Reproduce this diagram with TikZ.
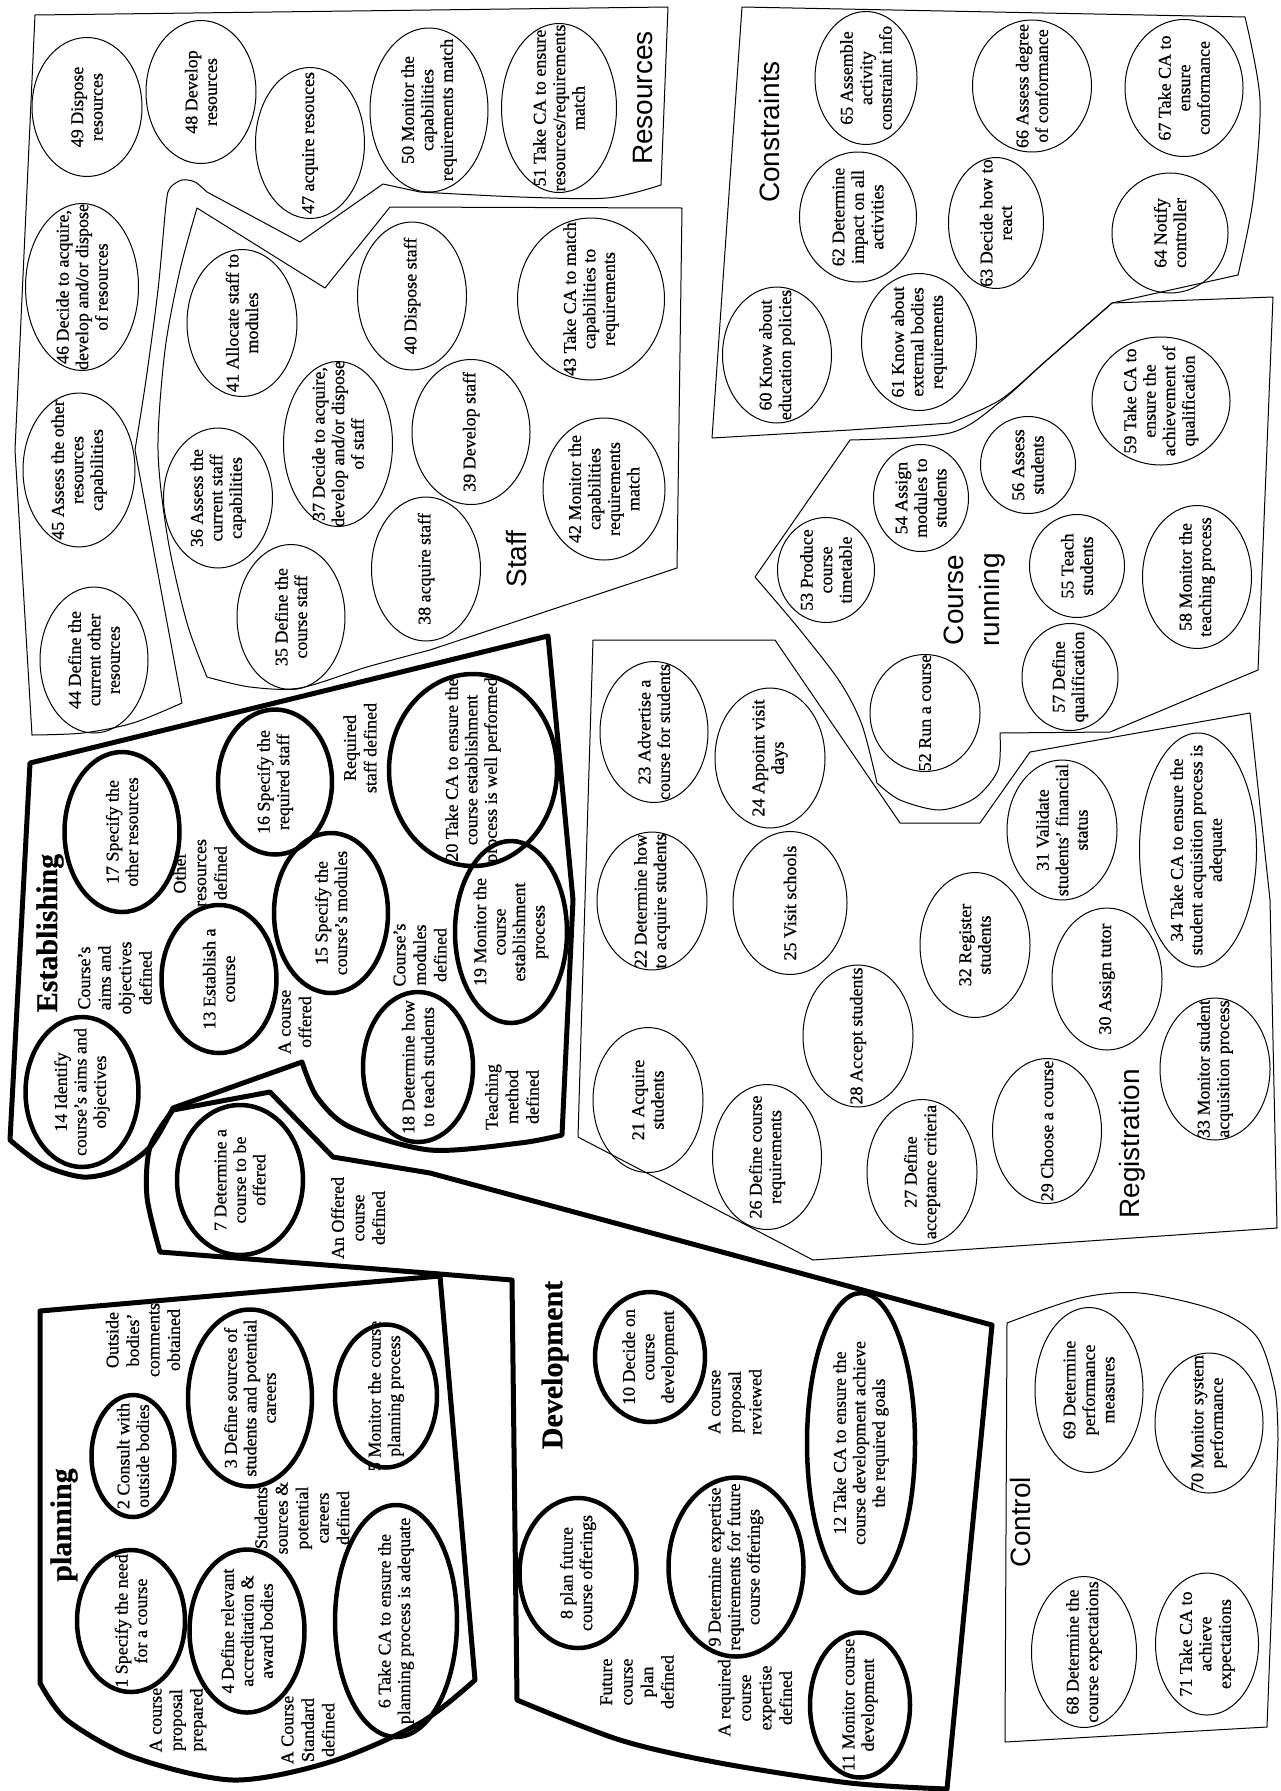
\documentclass[tikz,border=0pt]{standalone}
\usepackage{fontspec}
\setmainfont[FakeBold=0.6]{Liberation Serif}
\newfontfamily\titlefont{Liberation Sans}
\usetikzlibrary{shapes.geometric}
\newcommand\mkell[7]{%
  \node[#6, minimum width=#4pt, minimum height=#5pt] (e#1) at (#2,#3) {};
  \node[etxt] (t#1) at (e#1.center) {#7};}
\tikzset{
  ell/.style={ellipse, draw, line width=1pt, inner sep=0pt},
  ellb/.style={ellipse, draw, line width=4.5pt, inner sep=0pt},
  etxt/.style={rotate=90, align=center, inner sep=0pt, font=\fontsize{18}{19.5}\selectfont},
  lbl/.style={rotate=90, align=center, inner sep=0pt, font=\fontsize{18}{20.5}\selectfont},
  region/.style={draw, line width=1pt, line join=round},
  regionb/.style={draw, line width=5pt, line join=round},
  ttl/.style={rotate=90, inner sep=0pt, align=center, font=\titlefont\fontsize{28}{36}\selectfont},
  ttlb/.style={rotate=90, inner sep=0pt, align=center, font=\bfseries\fontsize{30}{32}\selectfont},
}
\begin{document}
\begin{tikzpicture}[x=1pt,y=-1pt]
\fill[white] (0,0) rectangle (1280,1791);
\useasboundingbox (0,0) rectangle (1280,1791);

% ---------------- regions ----------------
% Resources
\draw[region] (35,15) -- (668,7) -- (661,185)
  -- plot[smooth] coordinates {(661,185) (607,198) (520,197) (420,192)}
  -- (383,184) -- (300,242) -- (207,192)
  -- plot[smooth] coordinates {(207,192) (195,182) (182,180) (170,188) (166,205) (158,290) (146,380) (135,450)}
  -- (182,703)
  -- plot[smooth] coordinates {(182,703) (133,723) (83,733) (32,735)}
  -- (15,450) -- cycle;
% Staff
\draw[region] (197,208) -- (325,288) -- (390,207) -- (682,208) -- (677,568) -- (430,650)
  -- plot[smooth] coordinates {(430,650) (367,667) (300,688) (250,687) (207,677)}
  -- plot[smooth] coordinates {(207,677) (187,623) (168,540) (158,450) (165,350) (180,270) (197,208)} -- cycle;
% Constraints
\draw[region] (742,7) -- (1245,17)
  -- plot[smooth] coordinates {(1245,17) (1260,100) (1253,200) (1238,275)}
  -- (1112,303)
  -- plot[smooth] coordinates {(1112,303) (1047,360) (1000,400) (950,423)}
  -- (850,430) -- (712,438) -- cycle;
% Course running
\draw[region] (755,577) -- (850,440)
  -- plot[smooth] coordinates {(850,440) (950,433) (1000,402) (1047,360) (1112,303)}
  -- (1273,297) -- (1258,670) -- (1110,732) -- (1000,733)
  -- plot[smooth] coordinates {(1000,733) (998,770) (975,798) (940,810) (900,800) (877,783)}
  -- plot[smooth] coordinates {(877,783) (862,725) (840,682) (800,630) (755,577)} -- cycle;
% Registration
\draw[region] (593,640) -- (775,640) -- (900,823) -- (980,823) -- (1030,752) -- (1250,713)
  -- (1270,900) -- (1277,1228) -- (813,1260) -- (578,1137) -- (585,900) -- cycle;
% Control
\draw[region] (1007,1323)
  -- plot[smooth] coordinates {(1007,1323) (1080,1298) (1140,1293) (1215,1310) (1257,1337) (1275,1390) (1278,1440)}
  -- (1267,1727) -- (1005,1742) -- cycle;
% Establishing
\draw[regionb] (30,763) -- (548,636) -- (573,900) -- (562,1135)
  -- plot[smooth] coordinates {(562,1135) (520,1143) (430,1150) (350,1127) (317,1097) (302,1062)}
  -- (173,1108)
  -- plot[smooth] coordinates {(173,1108) (150,1147) (117,1170) (83,1177) (43,1165) (10,1140)} -- cycle;
% Offered course + Development
\draw[regionb] (173,1110) -- (270,1092) -- (333,1157) -- (430,1173) -- (992,1325) -- (947,1789)
  -- plot[smooth] coordinates {(947,1789) (850,1783) (720,1763) (620,1740) (517,1700)}
  -- (512,1280) -- (440,1274) -- (160,1252)
  -- plot[smooth] coordinates {(160,1252) (147,1197) (150,1147) (173,1110)} -- cycle;
% Planning
\draw[regionb] (40,1311) -- (440,1276) -- (475,1680)
  -- plot[smooth] coordinates {(475,1680) (420,1723) (330,1762) (233,1780) (133,1757) (67,1720) (40,1683)} -- cycle;

% ---------------- titles ----------------
\node[ttl] (tRes) at (643,98) {Resources};
\node[ttl] (tCon) at (769,132) {Constraints};
\node[ttl] (tStaff) at (516,559) {Staff};
\node[ttl] (tCR) at (975,600) {Course\\running};
\node[ttl] (tReg) at (1132,1144) {Registration};
\node[ttl] (tCtl) at (1020,1522) {Control};
\node[ttlb] (tEst) at (50,933) {Establishing};
\node[ttlb] (tPlan) at (64,1525) {planning};
\node[ttlb] (tDev) at (555,1365) {Development};

% ---------------- Resources ----------------
\mkell{49}{87}{107}{110}{139}{ell}{49 Dispose\\resources}
\mkell{48}{201}{92}{110}{143}{ell}{48 Develop\\resources}
\mkell{47}{310}{143}{109}{151}{ell}{47 acquire resouces}
\mkell{50}{429}{110}{118}{164}{ell}{50 Monitor the\\capabilities\\requirements match}
\mkell{51}{559}{108}{115}{169}{ell}{51 Take CA to ensure\\resources/requirements\\match}
\mkell{46}{82}{287}{113}{167}{ell}{46 Decide to acquire,\\develop and/or dispose\\of resources}
\mkell{45}{79}{470}{112}{154}{ell}{45 Assess the other\\resources\\capabilities}
\mkell{44}{94}{660}{108}{146}{ell}{44 Define the\\current other\\resources}
% ---------------- Staff ----------------
\mkell{41}{242}{323}{110}{147}{ell}{41 Allocate staff to\\modules}
\mkell{40}{412}{296}{109}{148}{ell}{40 Dispose staff}
\mkell{43}{591}{299}{147}{162}{ell}{43 Take CA to match\\capabilities to\\requirements}
\mkell{39}{471}{432}{118}{145}{ell}{39 Develop staff}
\mkell{42}{604}{489}{122}{142}{ell}{42 Monitor the\\capabilities\\requirements\\match}
\mkell{38}{426}{569}{109}{144}{ell}{38 acquire staff}
\mkell{37}{338}{444}{109}{165}{ell}{37 Decide to acquire,\\develop and/or dispose\\of staff}
\mkell{36}{218}{498}{109}{140}{ell}{36 Assess the\\current staff\\capabilities}
\mkell{35}{291}{617}{108}{145}{ell}{35 Define the\\course staff}
% ---------------- Constraints ----------------
\mkell{60}{777}{355}{109}{136}{ell}{60 Know about\\education policies}
\mkell{62}{858}{217}{117}{130}{ell}{62 Determine\\impact on all\\activities}
\mkell{65}{866}{78}{102}{133}{ell}{65 Assemble\\activity\\constraint info}
\mkell{66}{1032}{86}{119}{132}{ell}{66 Assess degree\\of conformance}
\mkell{63}{996}{223}{95}{131}{ell}{63 Decide how to\\react}
\mkell{67}{1184}{88}{118}{137}{ell}{67 Take CA to\\ensure\\conformance}
\mkell{64}{1170}{233}{116}{120}{ell}{64 Notify\\controller}
\mkell{61}{919}{342}{115}{137}{ell}{61 Know about\\external bodies\\requirements}
% ---------------- Course running ----------------
\mkell{53}{826}{570}{97}{105}{ell}{53 Produce\\course\\timetable}
\mkell{54}{921}{498}{95}{107}{ell}{54 Assign\\modules to\\students}
\mkell{56}{1028}{465}{95}{97}{ell}{56 Assess\\students}
\mkell{59}{1161}{401}{138}{128}{ell}{59 Take CA to\\ensure the\\achievement of\\qualification}
\mkell{55}{1077}{566}{95}{103}{ell}{55 Teach\\students}
\mkell{58}{1197}{577}{109}{143}{ell}{58 Monitor the\\teaching process}
\mkell{57}{1070}{677}{96}{107}{ell}{57 Define\\qualification}
\mkell{52}{925}{713}{110}{117}{ell}{52 Run a course}
% ---------------- Registration ----------------
\mkell{23}{654}{732}{108}{141}{ell}{23 Advertise a\\course for students}
\mkell{24}{770}{758}{110}{140}{ell}{24 Appoint visit\\days}
\mkell{22}{652}{901}{110}{138}{ell}{22 Determine how\\to acquire students}
\mkell{25}{790}{903}{114}{143}{ell}{25 Visit schools}
\mkell{21}{648}{1100}{110}{145}{ell}{21 Acquire\\students}
\mkell{26}{767}{1157}{109}{145}{ell}{26 Define course\\requirements}
\mkell{28}{858}{1036}{110}{142}{ell}{28 Accept students}
\mkell{27}{922}{1172}{110}{145}{ell}{27 Define\\acceptance criteria}
\mkell{32}{975}{945}{110}{145}{ell}{32 Register\\students}
\mkell{29}{1047}{1131}{109}{145}{ell}{29 Choose a course}
\mkell{30}{1107}{979}{110}{142}{ell}{30 Assign tutor}
\mkell{31}{1062}{830}{110}{140}{ell}{31 Validate\\students' financial\\status}
\mkell{34}{1198}{850}{117}{234}{ell}{34 Take CA to ensure the\\student acquisition process is\\adequate}
\mkell{33}{1215}{1069}{110}{142}{ell}{33 Monitor student\\acquisition process}
% ---------------- Establishing ----------------
\mkell{14}{82}{1092}{113}{150}{ellb}{14 Identify\\course's aims and\\objectives}
\mkell{17}{122}{832}{115}{160}{ellb}{17 Specify the\\other resources}
\mkell{16}{275}{782}{114}{145}{ellb}{16 Specify the\\required staff}
\mkell{20}{473}{770}{168}{192}{ellb}{20 Take CA to ensure the\\course establishment\\process is well performed}
\mkell{13}{219}{979}{115}{148}{ellb}{13 Establish a\\course}
\mkell{15}{331}{913}{114}{160}{ellb}{15 Specify the\\course's modules}
\mkell{18}{418}{1067}{110}{150}{ellb}{18 Determine how\\to teach students}
\mkell{19}{511}{932}{112}{182}{ellb}{19 Monitor the\\course\\establishment\\process}
\mkell{7}{240}{1180}{126}{150}{ellb}{7 Determine a\\course to be\\offered}
% ---------------- Planning ----------------
\mkell{1}{131}{1621}{108}{142}{ellb}{1 Specify the need\\for a course}
\mkell{2}{133}{1456}{83}{122}{ellb}{2 Consult with\\outside bodies}
\mkell{3}{250}{1398}{124}{177}{ellb}{3 Define sources of\\students and potential\\careers}
\mkell{4}{247}{1631}{115}{163}{ellb}{4 Define relevant\\accreditation \&\\award bodies}
\mkell{5}{386}{1396}{102}{143}{ellb}{5 Monitor the course\\planning process}
\mkell{6}{396}{1621}{122}{232}{ellb}{6 Take CA to ensure the\\planning process is adequate}
% ---------------- Development ----------------
\mkell{8}{578}{1573}{117}{150}{ellb}{8 plan future\\course offerings}
\mkell{9}{736}{1567}{135}{179}{ellb}{9 Determine expertise\\requirements for future\\course offerings}
\mkell{10}{650}{1357}{110}{130}{ellb}{10 Decide on\\course\\development}
\mkell{12}{861}{1443}{108}{300}{ellb}{12 Take CA to ensure the\\course development achieve\\the required goals}
\mkell{11}{860}{1705}{100}{145}{ellb}{11 Monitor course\\development}
% ---------------- Control ----------------
\mkell{68}{1084}{1652}{105}{151}{ell}{68 Determine the\\course expectations}
\mkell{69}{1089}{1390}{108}{165}{ell}{69 Determine\\performance\\measures}
\mkell{70}{1209}{1423}{108}{140}{ell}{70 Monitor system\\performance}
\mkell{71}{1207}{1644}{103}{142}{ell}{71 Take CA to\\achieve\\expectations}

% ---------------- state labels ----------------
\node[lbl] (l1) at (115,978) {Course's\\aims and\\objectives\\defined};
\node[lbl] (l2) at (200,873) {Other\\resources\\defined};
\node[lbl] (l3) at (360,748) {Required\\staff defined};
\node[lbl] (l4) at (420,955) {Course's\\modules\\defined};
\node[lbl] (l5) at (295,1022) {A course\\offered};
\node[lbl] (l6) at (512,1097) {Teaching\\method\\defined};
\node[lbl] (l7) at (358,1218) {An Offered\\course\\defined};
\node[lbl] (l8) at (143,1340) {Outside\\bodies'\\comments\\obtained};
\node[lbl] (l9) at (302,1518) {Students\\sources \&\\potential\\careers\\defined};
\node[lbl] (l10) at (178,1720) {A course\\proposal\\prepared};
\node[lbl] (l11) at (308,1730) {A Course\\Standard\\defined};
\node[lbl] (l12) at (735,1402) {A course\\proposal\\reviewed};
\node[lbl] (l13) at (637,1682) {Future\\course\\plan\\defined};
\node[lbl] (l14) at (755,1698) {A required\\course\\expertise\\defined};
\end{tikzpicture}
\end{document}
